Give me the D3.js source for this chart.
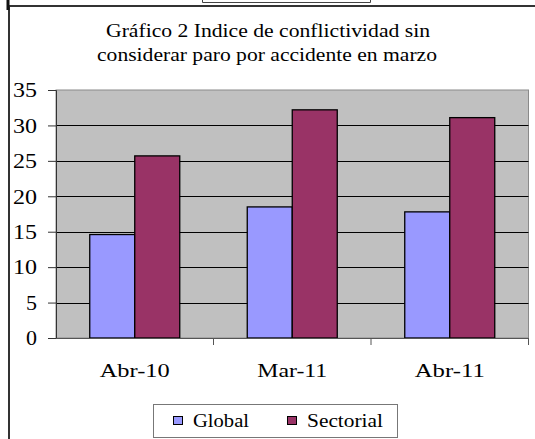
<!DOCTYPE html>
<html>
<head>
<meta charset="utf-8">
<script src="https://cdn.jsdelivr.net/npm/d3@7"></script>
<style>
  body { margin: 0; background: #fff; overflow: hidden; }
  svg { display: block; }
</style>
</head>
<body>
<div id="svg"></div>
<script>
const categories = ["Abr-10", "Mar-11", "Abr-11"];
const seriesNames = ["Global", "Sectorial"];
const globalValues = [14.6, 18.5, 17.8];
const sectorialValues = [25.7, 32.2, 31.1];
const yTicks = [0, 5, 10, 15, 20, 25, 30, 35];
const titleLines = ["Gráfico 2 Indice de  conflictividad sin", "considerar paro por accidente en marzo"];

const width = 535,
      height = 439;

const serif = "'Liberation Serif', 'Times New Roman', serif";
const colors = ["#9999FF", "#993366"];

const svg = d3.select("#svg")
  .append("svg")
    .attr("width", width)
    .attr("height", height)
    .style("font-family", serif);

// outer chart frame (only top and left visible)
svg.append("path")
    .attr("d", "M202.5,0V2.5H370.5V0")
    .attr("fill", "none").attr("stroke", "#444").attr("stroke-width", 1);
svg.append("path")
    .attr("d", `M9,${height}V6H${width}`)
    .attr("fill", "none").attr("stroke", "#333").attr("stroke-width", 2);
svg.append("path")
    .attr("d", "M8,0V10")
    .attr("stroke", "#111").attr("stroke-width", 3);

// title
svg.append("g")
  .selectAll("text")
  .data(titleLines)
  .enter()
  .append("text")
    .attr("x", (d, i) => [106, 97][i])
    .attr("y", (d, i) => [37, 61][i])
    .attr("textLength", (d, i) => [324, 340][i])
    .attr("lengthAdjust", "spacingAndGlyphs")
    .style("font-size", "18px")
    .style("font-family", serif)
    .attr("fill", "#000")
    .text(d => d);

const plot = { left: 56, right: 528.5, top: 90, bottom: 338 };

const x = d3.scaleBand()
    .domain(categories)
    .range([plot.left, plot.right]);

const xs = d3.scaleBand()
    .domain(seriesNames)
    .range([0, x.bandwidth()])
    .paddingOuter(0.75);

const y = d3.scaleLinear()
    .domain([0, 35])
    .range([plot.bottom, plot.top]);

// plot background
svg.append("rect")
    .attr("x", plot.left).attr("y", plot.top)
    .attr("width", plot.right - plot.left).attr("height", plot.bottom - plot.top)
    .attr("fill", "#C0C0C0")
    .attr("stroke", "#8a8a8a");

// gridlines
svg.append("g")
  .selectAll("line")
  .data(yTicks.filter(d => d > 0 && d < 35))
  .enter()
  .append("line")
    .attr("x1", plot.left).attr("x2", plot.right)
    .attr("y1", d => Math.round(y(d)) + 0.5).attr("y2", d => Math.round(y(d)) + 0.5)
    .attr("stroke", "#000").attr("stroke-width", 1);

// bars
const data = categories.map((c, i) => ({ cat: c, values: [globalValues[i], sectorialValues[i]] }));

svg.append("g")
  .selectAll("g")
  .data(data)
  .enter()
  .append("g")
    .attr("transform", d => `translate(${x(d.cat)},0)`)
  .selectAll("rect")
  .data(d => d.values.map((v, j) => ({ key: seriesNames[j], value: v, j: j })))
  .enter()
  .append("rect")
    .attr("x", d => xs(d.key))
    .attr("y", d => y(d.value))
    .attr("width", xs.bandwidth())
    .attr("height", d => y(0) - y(d.value))
    .attr("fill", d => colors[d.j])
    .attr("stroke", "#000")
    .attr("stroke-width", 1.3);

// y axis
const yAxis = d3.axisLeft(y)
    .tickValues(yTicks)
    .tickSize(8)
    .tickPadding(11)
    .tickFormat(d3.format("d"));

const gy = svg.append("g")
    .attr("transform", `translate(${plot.left},0)`)
    .call(yAxis);
gy.select(".domain").attr("stroke", "#333");
gy.selectAll(".tick line").attr("stroke", "#333");
gy.selectAll("text")
    .attr("x", -19)
    .attr("dy", "0.34em")
    .attr("textLength", d => String(d).length === 1 ? 11 : 24)
    .attr("lengthAdjust", "spacingAndGlyphs")
    .style("font-size", "20px")
    .style("font-family", serif)
    .attr("fill", "#000");

// x axis
const xAxis = d3.axisBottom(x)
    .tickSize(0)
    .tickPadding(0);

const gx = svg.append("g")
    .attr("transform", `translate(0,${plot.bottom})`)
    .call(xAxis);
gx.select(".domain").attr("stroke", "#555");
gx.selectAll("text")
    .attr("dy", 0)
    .attr("y", 39)
    .attr("textLength", 70)
    .attr("lengthAdjust", "spacingAndGlyphs")
    .style("font-size", "18px")
    .style("font-family", serif)
    .attr("fill", "#000");

// category separators
svg.append("g")
  .selectAll("line")
  .data(categories.slice(1).map(c => x(c)).concat([plot.right]))
  .enter()
  .append("line")
    .attr("x1", d => d).attr("x2", d => d)
    .attr("y1", plot.bottom).attr("y2", plot.bottom + 7)
    .attr("stroke", "#555");

// legend
const legend = svg.append("g");
legend.append("rect")
    .attr("x", 153.5).attr("y", 404.5)
    .attr("width", 244).attr("height", 33)
    .attr("fill", "#fff")
    .attr("stroke", "#777");

const legendX = d3.scaleOrdinal()
    .domain(seriesNames)
    .range([173.5, 287.5]);

const item = legend.selectAll("g.item")
  .data(seriesNames)
  .enter()
  .append("g")
    .attr("class", "item");

item.append("rect")
    .attr("x", d => legendX(d))
    .attr("y", 416.5)
    .attr("width", 9).attr("height", 8)
    .attr("fill", (d, i) => colors[i])
    .attr("stroke", "#000");

item.append("text")
    .attr("x", d => legendX(d) + 19.5)
    .attr("y", 426.5)
    .attr("textLength", (d, i) => [56, 76][i])
    .attr("lengthAdjust", "spacingAndGlyphs")
    .style("font-size", "18px")
    .style("font-family", serif)
    .attr("fill", "#000")
    .text(d => d);
</script>
</body>
</html>
